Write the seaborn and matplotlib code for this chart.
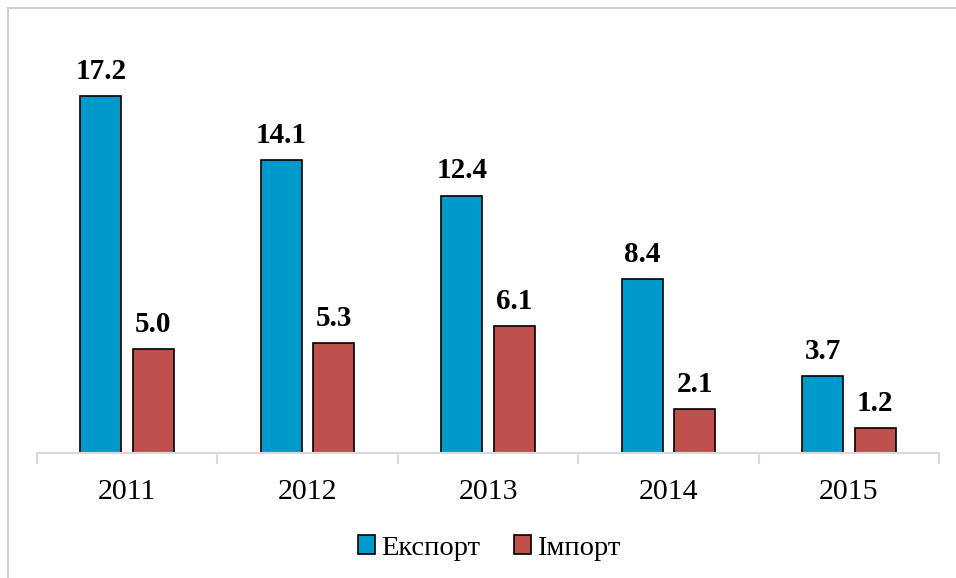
import matplotlib
matplotlib.use("Agg")
import matplotlib.pyplot as plt
import seaborn as sns
import pandas as pd
import numpy as np
from matplotlib.patches import Rectangle, Patch

years = ["2011", "2012", "2013", "2014", "2015"]
export_vals = [17.2, 14.1, 12.4, 8.4, 3.7]
import_vals = [5.0, 5.3, 6.1, 2.1, 1.2]
series_names = ["Експорт", "Імпорт"]
colors = ["#0099CC", "#C0504D"]

df = pd.DataFrame({
    "year": years * 2,
    "value": export_vals + import_vals,
    "series": [series_names[0]] * len(years) + [series_names[1]] * len(years),
})

sns.set_theme(style="white")
plt.rcParams['font.family'] = ['Liberation Serif', 'DejaVu Serif']
plt.rcParams['text.color'] = 'black'

W, H = 956, 578
fig = plt.figure(figsize=(W / 100, H / 100), dpi=100)
ax = fig.add_axes([37 / W, 1 - 453 / H, (939 - 37) / W, (453 - 20) / H])

sns.barplot(data=df, x="year", y="value", hue="series", palette=colors,
            width=0.582, gap=0.22, ax=ax, legend=False,
            edgecolor="black", linewidth=1.2, saturation=1)

ax.set_xlim(-0.5, 4.5)
ax.set_ylim(0, (453 - 20) / 20.76)

for c in ax.containers:
    ax.bar_label(c, fmt="%.1f", padding=8, fontsize=21, fontweight="bold", color="black")

ax.set_xlabel("")
ax.set_ylabel("")
ax.set_yticks([])
for s in ["top", "right", "left"]:
    ax.spines[s].set_visible(False)
ax.spines["bottom"].set_color("#D9D9D9")
ax.spines["bottom"].set_linewidth(1.5)
ax.tick_params(axis="x", which="major", length=0, pad=19, labelsize=21.5, labelcolor="black")
ax.set_xticks(np.arange(-0.5, 5.0, 1.0), minor=True)
ax.tick_params(axis="x", which="minor", length=8, width=1.5, color="#D9D9D9", bottom=True)

handles = [Patch(facecolor=colors[i], edgecolor="black", linewidth=1.2, label=series_names[i]) for i in range(2)]
leg = fig.legend(handles=handles, loc="center", bbox_to_anchor=(489 / W, 1 - 548 / H),
                 ncol=2, frameon=False, fontsize=20.5, handlelength=0.6, handleheight=0.6,
                 handletextpad=0.2, columnspacing=1.2)
for t in leg.get_texts():
    t.set_color("black")

fig.patches.append(Rectangle((8 / W, -0.1), 1.2, 1.1 - 8 / H, transform=fig.transFigure,
                             fill=False, edgecolor="#D0D0D0", linewidth=1.5, zorder=0))

fig.savefig("out.png", dpi=100, facecolor="white")
